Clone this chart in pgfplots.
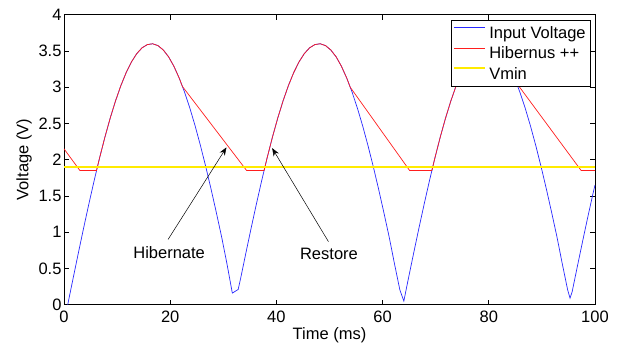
\documentclass[border=0pt]{standalone}
\usepackage{pgfplots}
\pgfplotsset{compat=1.18}
\usepackage{fontspec}
\setmainfont{Liberation Sans}
\usetikzlibrary{arrows.meta}
\newcommand\fsz{\fontsize{16.5bp}{19.8bp}\selectfont}
\definecolor{vblue}{RGB}{40,40,255}
\definecolor{vred}{RGB}{255,30,30}
\definecolor{vyel}{RGB}{255,235,0}
\begin{document}
\begin{tikzpicture}
\begin{axis}[
  scale only axis, width=531bp, height=290bp,
  xmin=0, xmax=100, ymin=0, ymax=4,
  xtick={0,20,40,60,80,100}, ytick={0,0.5,1,1.5,2,2.5,3,3.5,4},
  tick align=inside, major tick length=5bp,
  axis line style={line width=0.8bp},
  tick style={black, line width=0.8bp},
  /pgf/number format/assume math mode=true,
  tick label style={font=\fsz},
  xticklabel style={yshift=-3bp},
  yticklabel style={xshift=1bp},
  label style={font=\fsz},
  xlabel={Time (ms)}, ylabel={Voltage (V)},
  xlabel style={at={(axis description cs:0.5,-0.107)}, anchor=center},
  ylabel style={at={(axis description cs:-0.0753,0.5)}, anchor=center},
  legend cell align=left,
  legend style={at={(0.9925,0.982)}, anchor=north east, draw=black, line width=0.8bp,
    fill=white, font=\fsz, inner xsep=2bp, inner ysep=4.5bp, row sep=4bp,
    nodes={inner xsep=3bp, inner ysep=1.5bp}},
  legend image code/.code={\draw[#1] (0bp,5.5bp) -- (31bp,5.5bp);},
]
\addplot[draw=vblue, line width=0.7bp] coordinates {
(0.7,0) (1.7,0.358) (2.7,0.712) (3.7,1.059) (4.7,1.395) (5.7,1.718) (6.7,2.024) (7.7,2.310) (8.7,2.573) (9.7,2.810) (10.7,3.020) (11.7,3.200) (12.7,3.348) (13.7,3.463) (14.7,3.543) (15.7,3.588) (16.7,3.599) (17.7,3.574) (18.7,3.513) (19.7,3.419) (20.7,3.288) (21.7,3.125) (22.7,2.933) (23.7,2.712) (24.7,2.465) (25.7,2.194) (26.7,1.903) (27.7,1.593) (28.7,1.267) (29.7,0.930) (30.7,0.560) (31.7,0.16) (32.8,0.21)
(33.25,0.358) (34.25,0.712) (35.25,1.059) (36.25,1.395) (37.25,1.718) (38.25,2.024) (39.25,2.310) (40.25,2.573) (41.25,2.810) (42.25,3.020) (43.25,3.200) (44.25,3.348) (45.25,3.463) (46.25,3.543) (47.25,3.588) (48.25,3.599) (49.25,3.574) (50.25,3.513) (51.25,3.419) (52.25,3.288) (53.25,3.125) (54.25,2.933) (55.25,2.712) (56.25,2.465) (57.25,2.194) (58.25,1.903) (59.25,1.593) (60.25,1.267) (61.25,0.930) (62.25,0.560) (63.25,0.204) (64.0,0.05)
(64.85,0.358) (65.85,0.712) (66.85,1.059) (67.85,1.395) (68.85,1.718) (69.85,2.024) (70.85,2.310) (71.85,2.573) (72.85,2.810) (73.85,3.020) (74.85,3.200) (75.85,3.348) (76.85,3.463) (77.85,3.543) (78.85,3.588) (79.85,3.599) (80.85,3.574) (81.85,3.513) (82.85,3.419) (83.85,3.288) (84.85,3.125) (85.85,2.933) (86.85,2.712) (87.85,2.465) (88.85,2.194) (89.85,1.903) (90.85,1.593) (91.85,1.267) (92.85,0.930) (93.85,0.560) (94.85,0.204) (95.3,0.09) (95.7,0.18) (96.7,0.536) (97.7,0.886) (98.7,1.228) (99.7,1.558) (100,1.65)
};
\addlegendentry{Input Voltage}
\addplot[draw=vred, line width=0.7bp] coordinates {
(0,2.15) (3.0,1.85) (6.12,1.85) (6.7,2.024) (7.7,2.310) (8.7,2.573) (9.7,2.810) (10.7,3.020) (11.7,3.200) (12.7,3.348) (13.7,3.463) (14.7,3.543) (15.7,3.588) (16.7,3.599) (17.7,3.574) (18.7,3.513) (19.7,3.419) (20.7,3.288) (21.7,3.125) (22.3,3.01) (34.4,1.85)
(37.67,1.85) (38.25,2.024) (39.25,2.310) (40.25,2.573) (41.25,2.810) (42.25,3.020) (43.25,3.200) (44.25,3.348) (45.25,3.463) (46.25,3.543) (47.25,3.588) (48.25,3.599) (49.25,3.574) (50.25,3.513) (51.25,3.419) (52.25,3.288) (53.25,3.125) (53.9,3.0) (65.1,1.85)
(69.27,1.85) (69.85,2.024) (70.85,2.310) (71.85,2.573) (72.85,2.810) (73.85,3.020) (74.85,3.200) (75.85,3.348) (76.85,3.463) (77.85,3.543) (78.85,3.588) (79.85,3.599) (80.85,3.574) (81.85,3.513) (82.85,3.419) (83.85,3.288) (84.85,3.125) (85.2,3.06) (97.4,1.85) (100,1.85)
};
\addlegendentry{Hibernus ++}
\addplot[draw=vyel, line width=2bp] coordinates {(0,1.9) (100,1.9)};
\addlegendentry{Vmin}
\node[font=\fsz] at (axis cs:19.8,0.72) {Hibernate};
\draw[-{Stealth[length=8bp,width=6bp]}, line width=0.5bp] (axis cs:19.6,0.90) -- (axis cs:30.6,2.17);
\node[font=\fsz] at (axis cs:49.9,0.70) {Restore};
\draw[-{Stealth[length=8bp,width=6bp]}, line width=0.5bp] (axis cs:49.8,0.87) -- (axis cs:39.2,2.16);
\coordinate (SW) at (rel axis cs:0,0);
\coordinate (NE) at (rel axis cs:1,1);
\end{axis}
\path ([shift={(-64bp,-39.2bp)}]SW) rectangle ([shift={(25bp,14.7bp)}]NE);
\end{tikzpicture}
\end{document}
